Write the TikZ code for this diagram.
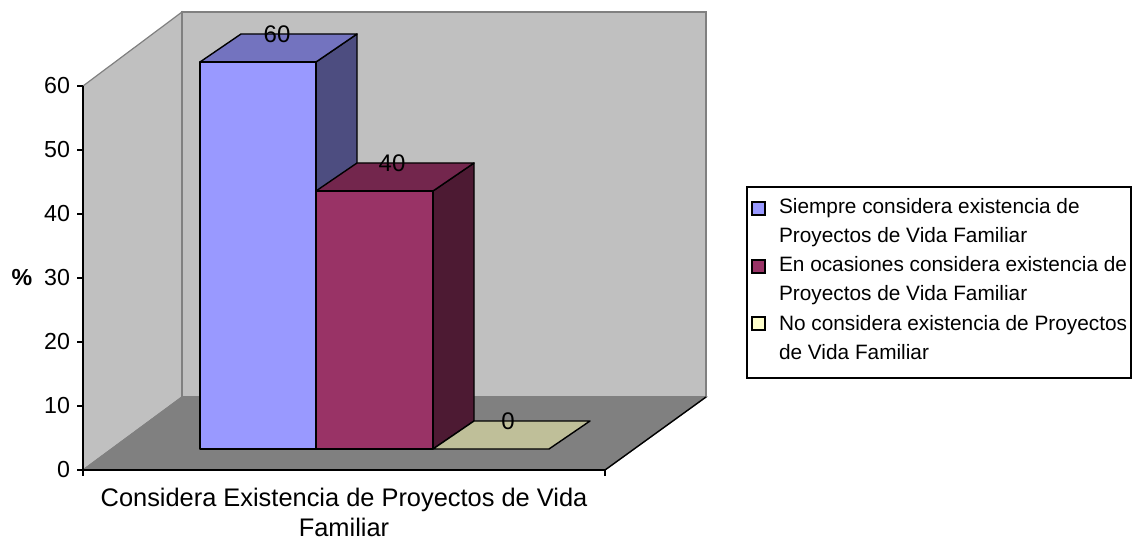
\documentclass[tikz,border=0pt]{standalone}
\usepackage{fontspec}
\setmainfont{Liberation Sans}
\usetikzlibrary{positioning}

\definecolor{wallgray}{HTML}{C0C0C0}
\definecolor{floorgray}{HTML}{808080}
\definecolor{siempreF}{HTML}{9999FF}
\definecolor{siempreT}{HTML}{7373BF}
\definecolor{siempreS}{HTML}{4D4D80}
\definecolor{ocasionF}{HTML}{993366}
\definecolor{ocasionT}{HTML}{73264D}
\definecolor{ocasionS}{HTML}{4D1A33}
\definecolor{nuncaF}{HTML}{FFFFCC}
\definecolor{nuncaT}{HTML}{BFBF99}

\begin{document}
\begin{tikzpicture}[x=0.5pt, y=-0.5pt,
  wall/.style={fill=wallgray, draw=floorgray, line width=0.6pt},
  face/.style={draw=black, line width=0.7pt, line join=round},
  ticklab/.style={anchor=east, font=\fontsize{11.6}{13}\selectfont},
  datalab/.style={font=\fontsize{12}{14}\selectfont},
  legtext/.style={anchor=west, align=left, font=\fontsize{10.4}{14.5}\selectfont},
  legbox/.style={draw=black, line width=0.6pt}]
\useasboundingbox (0,0) rectangle (1133,544);

% walls and floor
\coordinate (fl) at (83,470);
\coordinate (fr) at (605,470);
\coordinate (bl) at (182,397);
\coordinate (br) at (706,397);
\coordinate (tl) at (182,12);
\coordinate (tr) at (706,12);
\coordinate (sl) at (83,86);
\path[wall] (sl) -- (tl) -- (bl) -- (fl) -- cycle;
\path[wall] (tl) -- (tr) -- (br) -- (bl) -- cycle;
\path[fill=floorgray, draw=floorgray, line width=0.6pt] (fl) -- (bl) -- (br) -- (fr) -- cycle;
\draw[black, line width=0.7pt] (fr) -- (br);

% axes
\draw[black, line width=0.7pt] (83,86) -- (83,476);
\draw[black, line width=0.7pt] (fl) -- (fr) -- (605,476);
\foreach \v in {0,...,6}{
  \draw[black, line width=0.7pt] (77,470-64*\v) -- (83,470-64*\v);
  \node[ticklab] (t\v) at (77,470-64*\v) {\the\numexpr\v*10\relax};
}
\node[font=\bfseries\fontsize{11.6}{13}\selectfont] (pct) at (22,278) {\%};

% bar: siempre (60)
\path[face, fill=siempreS] (316,62) -- (357,34) -- (357,421) -- (316,449) -- cycle;
\path[face, fill=siempreT] (200,62) -- (241,34) -- (357,34) -- (316,62) -- cycle;
\path[face, fill=siempreF] (200,62) rectangle (316,449);
% bar: en ocasiones (40)
\path[face, fill=ocasionS] (433,191) -- (474,163) -- (474,421) -- (433,449) -- cycle;
\path[face, fill=ocasionT] (316,191) -- (357,163) -- (474,163) -- (433,191) -- cycle;
\path[face, fill=ocasionF] (316,191) rectangle (433,449);
% bar: no considera (0)
\path[face, fill=nuncaT] (433,449) -- (474,421) -- (590,421) -- (549,449) -- cycle;

\node[datalab] (v60) at (277,34) {60};
\node[datalab] (v40) at (392,163) {40};
\node[datalab] (v0) at (508,421) {0};

% category title
\node[align=center, font=\fontsize{12.7}{15}\selectfont] (cat) at (344,512)
  {Considera Existencia de Proyectos de Vida\\Familiar};

% legend
\draw[legbox] (747,187) rectangle (1131,378);
\draw[legbox, fill=siempreF] (752,202) rectangle (765,215);
\draw[legbox, fill=ocasionF] (752,260) rectangle (765,273);
\draw[legbox, fill=nuncaF] (752,317) rectangle (765,330);
\node[legtext] (l1) at (772,223) {Siempre considera existencia de\\Proyectos de Vida Familiar};
\node[legtext] (l2) at (772,281) {En ocasiones considera existencia de\\Proyectos de Vida Familiar};
\node[legtext] (l3) at (772,338) {No considera existencia de Proyectos\\de Vida Familiar};
\end{tikzpicture}
\end{document}
